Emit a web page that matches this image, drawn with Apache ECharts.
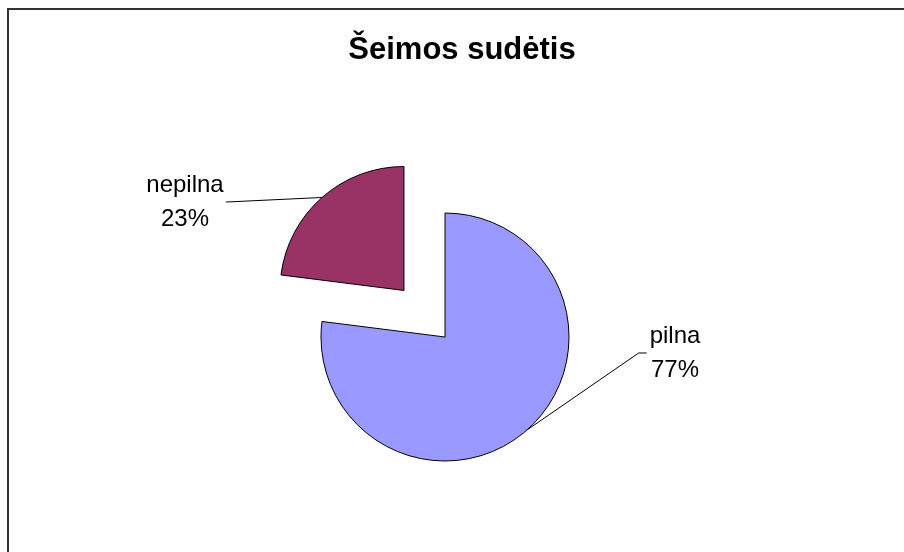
<!DOCTYPE html>
<html>
<head>
<meta charset="utf-8">
<script src="https://cdn.jsdelivr.net/npm/echarts@6/dist/echarts.min.js"></script>
<style>
html,body{margin:0;padding:0;background:#fff;}
#chart{width:904px;height:552px;}
</style>
</head>
<body>
<div id="chart"></div>
<script>
const titleText = 'Šeimos sudėtis';
const categories = ['pilna', 'nepilna'];
const values = [77, 23];
const colors = ['#9999FF', '#993366'];
const explodedIndex = 1;

const chart = echarts.init(document.getElementById('chart'), null, {renderer: 'canvas'});
const font = '"Liberation Sans", Arial, sans-serif';

// Pie geometry
const pieCenter = [445, 337];
const pieRadius = 124;
const explodeDist = 62;
const total = values.reduce((a, b) => a + b, 0);
// mid-angle (clockwise from 12 o'clock) of each slice
const midAngles = [];
let acc = 0;
values.forEach(v => { midAngles.push((acc + v / 2) / total * 2 * Math.PI); acc += v; });
function centerFor(i) {
  if (i !== explodedIndex) return pieCenter;
  const a = midAngles[i];
  return [pieCenter[0] + explodeDist * Math.sin(a), pieCenter[1] - explodeDist * Math.cos(a)];
}

// label placement (center of label block) and which side the leader meets
const labelPlace = [
  {x: 675, y: 353, side: 'left'},
  {x: 185, y: 202, side: 'right'}
];

function makeSeries(visibleIdx) {
  return {
    type: 'pie',
    center: centerFor(visibleIdx),
    radius: pieRadius,
    startAngle: 90,
    clockwise: true,
    avoidLabelOverlap: false,
    silent: true,
    emphasis: {disabled: true, scale: false},
    label: {
      show: true,
      formatter: '{b}\n{d}%',
      fontFamily: font,
      fontSize: 24,
      lineHeight: 34,
      color: '#000'
    },
    labelLine: {show: true, lineStyle: {color: '#000', width: 1}},
    labelLayout: function (params) {
      if (params.dataIndex !== visibleIdx) return {};
      const p = params.labelLinePoints;
      const w = params.labelRect.width;
      const lp = labelPlace[visibleIdx];
      let pts;
      if (p) {
        if (lp.side === 'left') {
          const endX = lp.x - w / 2 - 3;
          pts = [p[0], [endX - 8, lp.y], [endX, lp.y]];
        } else {
          const endX = lp.x + w / 2 + 2;
          pts = [p[0], [endX + 1, lp.y], [endX, lp.y]];
        }
      }
      return {x: lp.x, y: lp.y, align: 'center', verticalAlign: 'middle', labelLinePoints: pts};
    },
    data: categories.map((c, i) => {
      const vis = i === visibleIdx;
      return {
        name: c,
        value: values[i],
        itemStyle: vis ? {color: colors[i], borderColor: '#000', borderWidth: 1}
                       : {color: 'rgba(0,0,0,0)', borderWidth: 0},
        label: {show: vis},
        labelLine: {show: vis}
      };
    })
  };
}

chart.setOption({
  animation: false,
  backgroundColor: '#fff',
  title: {
    text: titleText,
    left: 457,
    top: 30,
    textAlign: 'center',
    textStyle: {fontFamily: font, fontSize: 31, fontWeight: 'bold', color: '#000'}
  },
  graphic: [{
    type: 'rect',
    shape: {x: 8, y: 9, width: 1000, height: 700},
    style: {fill: 'none', stroke: '#333', lineWidth: 2},
    silent: true
  }],
  series: [makeSeries(0), makeSeries(1)]
});
</script>
</body>
</html>
